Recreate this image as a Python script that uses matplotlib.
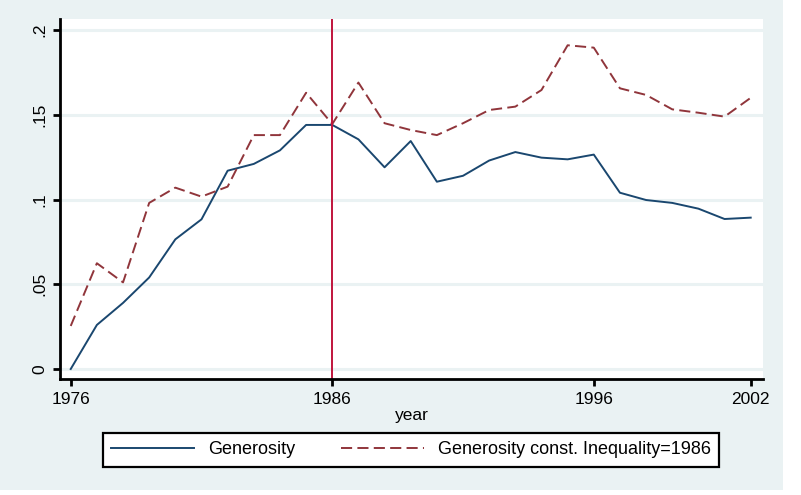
import matplotlib.pyplot as plt
from matplotlib.patches import Rectangle

plt.rcParams['font.family'] = ['Liberation Sans', 'DejaVu Sans']
plt.rcParams['lines.scale_dashes'] = False

years = list(range(1976, 2003))
generosity = [0.000, 0.026, 0.039, 0.054, 0.0765, 0.0883, 0.117, 0.121, 0.129, 0.144,
              0.144, 0.1355, 0.119, 0.1345, 0.1105, 0.114, 0.123, 0.128, 0.1247, 0.1237,
              0.1265, 0.104, 0.0997, 0.098, 0.0946, 0.0885, 0.0893]
gen_const = [0.0254, 0.0624, 0.0511, 0.098, 0.107, 0.1017, 0.1076, 0.138, 0.138, 0.163,
             0.1445, 0.169, 0.145, 0.141, 0.138, 0.145, 0.1528, 0.1548, 0.1646, 0.191,
             0.1896, 0.1656, 0.1617, 0.1532, 0.1512, 0.1489, 0.160]
yticks = [0, 0.05, 0.1, 0.15, 0.2]
ylabels = ['0', '.05', '.1', '.15', '.2']
xticks = [1976, 1986, 1996, 2002]
ref_year = 1986

bg = '#eaf2f3'
navy = '#1a476f'
maroon = '#90353b'

fig = plt.figure(figsize=(8.01, 4.95), dpi=100)
fig.patch.set_facecolor('white')
# stata-like outer region
fig.patches.append(Rectangle((0, 5 / 495), 783 / 801, 1 - 5 / 495, transform=fig.transFigure,
                             facecolor=bg, edgecolor='none', zorder=-10))

ax = fig.add_axes([60 / 801, (495 - 379) / 495, 703 / 801, 360 / 495])
ax.set_facecolor('white')

for yt in yticks:
    ax.axhline(yt, color=bg, lw=2.2, zorder=0)

ax.plot(years, generosity, color=navy, lw=1.4, label='Generosity')
ax.plot(years, gen_const, color=maroon, lw=1.4, dashes=(8, 3.8),
        label='Generosity const. Inequality=1986')
ax.axvline(ref_year, color='#c0143c', lw=1.4)

ax.set_xlim(1975.59, 2002.47)
ax.set_ylim(-0.0059, 0.2065)
ax.set_yticks(yticks)
ax.set_yticklabels(ylabels, rotation=90, va='center')
ax.set_xticks(xticks)
ax.set_xlabel('year', fontsize=12.5, labelpad=1)

for s in ['top', 'right']:
    ax.spines[s].set_visible(False)
for s in ['left', 'bottom']:
    ax.spines[s].set_linewidth(2)
ax.tick_params(axis='both', length=5, width=2, labelsize=12.5, pad=4)

h, l = ax.get_legend_handles_labels()
leg = fig.legend(h, l, ncol=2, loc='center', bbox_to_anchor=(411 / 801, 1 - 450 / 495),
                 fontsize=13, frameon=True, fancybox=False, framealpha=1,
                 handlelength=4.6, columnspacing=2.5, borderpad=0.45, handletextpad=0.8)
leg.get_frame().set_edgecolor('black')
leg.get_frame().set_facecolor('white')
leg.get_frame().set_linewidth(1.6)

fig.savefig('out.png', dpi=100, facecolor=fig.get_facecolor())
